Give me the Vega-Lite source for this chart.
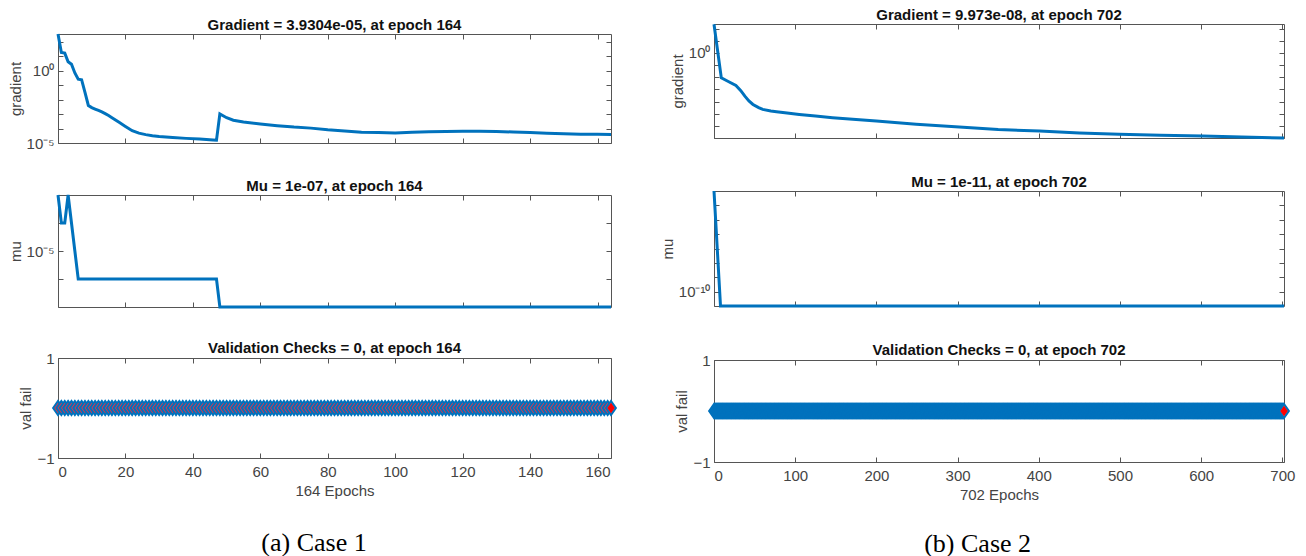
{
"$schema":"https://vega.github.io/schema/vega-lite/v6.json",
"background":"white",
"padding":{"left":7,"top":5,"right":5,"bottom":0},
"config":{
 "font":"Liberation Sans",
 "view":{"stroke":"#555","strokeWidth":1},
 "axis":{"labelFont":"Liberation Sans","labelFontSize":15,"labelColor":"#444","titleFont":"Liberation Sans","titleFontSize":15,"titleFontWeight":"normal","titleColor":"#444","tickColor":"#555","domain":false,"grid":false,"tickSize":-5,"titlePadding":3},
 "axisX":{"labelPadding":11},
 "axisY":{"labelPadding":9},
 "title":{"font":"Liberation Sans","fontSize":15,"fontWeight":"bold","color":"#111","anchor":"middle","baseline":"bottom","offset":-5,"frame":"group"}
},
"datasets":{
"g1":[{"e":0,"g":347},{"e":1,"g":18.6},{"e":2,"g":16.6},{"e":3,"g":4.17},{"e":4,"g":2.82},{"e":5,"g":0.708},{"e":6,"g":0.263},{"e":7,"g":0.24},{"e":8,"g":0.0316},{"e":9,"g":0.00398},{"e":10,"g":0.00282},{"e":11,"g":0.00224},{"e":12,"g":0.00178},{"e":13,"g":0.00141},{"e":14,"g":0.00107},{"e":15,"g":0.000794},{"e":16,"g":0.000562},{"e":18,"g":0.000282},{"e":20,"g":0.000141},{"e":22,"g":0.0000708},{"e":24,"g":0.0000479},{"e":26,"g":0.000038},{"e":28,"g":0.0000316},{"e":30,"g":0.0000282},{"e":34,"g":0.000024},{"e":38,"g":0.0000209},{"e":42,"g":0.0000186},{"e":46,"g":0.0000162},{"e":47,"g":0.0000158},{"e":48,"g":0.00102},{"e":50,"g":0.000562},{"e":52,"g":0.00038},{"e":55,"g":0.000282},{"e":60,"g":0.000209},{"e":65,"g":0.000158},{"e":70,"g":0.000126},{"e":75,"g":0.000107},{"e":80,"g":0.0000813},{"e":85,"g":0.0000676},{"e":90,"g":0.000055},{"e":95,"g":0.0000525},{"e":100,"g":0.0000501},{"e":105,"g":0.000055},{"e":110,"g":0.0000589},{"e":115,"g":0.0000631},{"e":120,"g":0.0000661},{"e":125,"g":0.0000661},{"e":130,"g":0.0000631},{"e":135,"g":0.0000575},{"e":140,"g":0.0000525},{"e":145,"g":0.0000479},{"e":150,"g":0.0000437},{"e":155,"g":0.0000407},{"e":160,"g":0.00004},{"e":164,"g":0.000039304}],
"m1":[{"e":0,"mu":0.001},{"e":1,"mu":0.0001},{"e":2,"mu":0.0001},{"e":3,"mu":0.001},{"e":4,"mu":0.0001},{"e":5,"mu":0.00001},{"e":6,"mu":0.000001},{"e":47,"mu":0.000001},{"e":48,"mu":0.0000001},{"e":164,"mu":0.0000001}],
"b1":[{"e":164,"v":0}],
"g2":[{"e":0,"g":229},{"e":9,"g":0.00891},{"e":17,"g":0.00468},{"e":27,"g":0.00209},{"e":33,"g":0.000794},{"e":38,"g":0.000275},{"e":43,"g":0.000112},{"e":48,"g":0.0000575},{"e":55,"g":0.0000316},{"e":60,"g":0.0000224},{"e":70,"g":0.0000166},{"e":77,"g":0.0000145},{"e":90,"g":0.0000112},{"e":105,"g":0.00000871},{"e":125,"g":0.00000631},{"e":146,"g":0.00000468},{"e":175,"g":0.00000331},{"e":200,"g":0.00000245},{"e":249,"g":0.00000132},{"e":302,"g":0.000000794},{"e":350,"g":0.000000501},{"e":401,"g":0.000000372},{"e":450,"g":0.000000263},{"e":499,"g":0.0000002},{"e":550,"g":0.000000166},{"e":602,"g":0.000000145},{"e":650,"g":0.00000012},{"e":702,"g":0.00000009973}],
"m2":[{"e":0,"mu":1e-3},{"e":1,"mu":1e-4},{"e":2,"mu":1e-5},{"e":3,"mu":1e-6},{"e":4,"mu":1e-7},{"e":5,"mu":1e-8},{"e":6,"mu":1e-9},{"e":7,"mu":1e-10},{"e":8,"mu":1e-11},{"e":702,"mu":1e-11}],
"b2":[{"e":702,"v":0}],
"v1":[
{"e":0,"v":0},{"e":1,"v":0},{"e":2,"v":0},{"e":3,"v":0},{"e":4,"v":0},{"e":5,"v":0},{"e":6,"v":0},{"e":7,"v":0},{"e":8,"v":0},{"e":9,"v":0},
{"e":10,"v":0},{"e":11,"v":0},{"e":12,"v":0},{"e":13,"v":0},{"e":14,"v":0},{"e":15,"v":0},{"e":16,"v":0},{"e":17,"v":0},{"e":18,"v":0},{"e":19,"v":0},
{"e":20,"v":0},{"e":21,"v":0},{"e":22,"v":0},{"e":23,"v":0},{"e":24,"v":0},{"e":25,"v":0},{"e":26,"v":0},{"e":27,"v":0},{"e":28,"v":0},{"e":29,"v":0},
{"e":30,"v":0},{"e":31,"v":0},{"e":32,"v":0},{"e":33,"v":0},{"e":34,"v":0},{"e":35,"v":0},{"e":36,"v":0},{"e":37,"v":0},{"e":38,"v":0},{"e":39,"v":0},
{"e":40,"v":0},{"e":41,"v":0},{"e":42,"v":0},{"e":43,"v":0},{"e":44,"v":0},{"e":45,"v":0},{"e":46,"v":0},{"e":47,"v":0},{"e":48,"v":0},{"e":49,"v":0},
{"e":50,"v":0},{"e":51,"v":0},{"e":52,"v":0},{"e":53,"v":0},{"e":54,"v":0},{"e":55,"v":0},{"e":56,"v":0},{"e":57,"v":0},{"e":58,"v":0},{"e":59,"v":0},
{"e":60,"v":0},{"e":61,"v":0},{"e":62,"v":0},{"e":63,"v":0},{"e":64,"v":0},{"e":65,"v":0},{"e":66,"v":0},{"e":67,"v":0},{"e":68,"v":0},{"e":69,"v":0},
{"e":70,"v":0},{"e":71,"v":0},{"e":72,"v":0},{"e":73,"v":0},{"e":74,"v":0},{"e":75,"v":0},{"e":76,"v":0},{"e":77,"v":0},{"e":78,"v":0},{"e":79,"v":0},
{"e":80,"v":0},{"e":81,"v":0},{"e":82,"v":0},{"e":83,"v":0},{"e":84,"v":0},{"e":85,"v":0},{"e":86,"v":0},{"e":87,"v":0},{"e":88,"v":0},{"e":89,"v":0},
{"e":90,"v":0},{"e":91,"v":0},{"e":92,"v":0},{"e":93,"v":0},{"e":94,"v":0},{"e":95,"v":0},{"e":96,"v":0},{"e":97,"v":0},{"e":98,"v":0},{"e":99,"v":0},
{"e":100,"v":0},{"e":101,"v":0},{"e":102,"v":0},{"e":103,"v":0},{"e":104,"v":0},{"e":105,"v":0},{"e":106,"v":0},{"e":107,"v":0},{"e":108,"v":0},{"e":109,"v":0},
{"e":110,"v":0},{"e":111,"v":0},{"e":112,"v":0},{"e":113,"v":0},{"e":114,"v":0},{"e":115,"v":0},{"e":116,"v":0},{"e":117,"v":0},{"e":118,"v":0},{"e":119,"v":0},
{"e":120,"v":0},{"e":121,"v":0},{"e":122,"v":0},{"e":123,"v":0},{"e":124,"v":0},{"e":125,"v":0},{"e":126,"v":0},{"e":127,"v":0},{"e":128,"v":0},{"e":129,"v":0},
{"e":130,"v":0},{"e":131,"v":0},{"e":132,"v":0},{"e":133,"v":0},{"e":134,"v":0},{"e":135,"v":0},{"e":136,"v":0},{"e":137,"v":0},{"e":138,"v":0},{"e":139,"v":0},
{"e":140,"v":0},{"e":141,"v":0},{"e":142,"v":0},{"e":143,"v":0},{"e":144,"v":0},{"e":145,"v":0},{"e":146,"v":0},{"e":147,"v":0},{"e":148,"v":0},{"e":149,"v":0},
{"e":150,"v":0},{"e":151,"v":0},{"e":152,"v":0},{"e":153,"v":0},{"e":154,"v":0},{"e":155,"v":0},{"e":156,"v":0},{"e":157,"v":0},{"e":158,"v":0},{"e":159,"v":0},
{"e":160,"v":0},{"e":161,"v":0},{"e":162,"v":0},{"e":163,"v":0},{"e":164,"v":0}],
"v2":[
{"e":0,"v":0},{"e":1,"v":0},{"e":2,"v":0},{"e":3,"v":0},{"e":4,"v":0},{"e":5,"v":0},{"e":6,"v":0},{"e":7,"v":0},{"e":8,"v":0},{"e":9,"v":0},
{"e":10,"v":0},{"e":11,"v":0},{"e":12,"v":0},{"e":13,"v":0},{"e":14,"v":0},{"e":15,"v":0},{"e":16,"v":0},{"e":17,"v":0},{"e":18,"v":0},{"e":19,"v":0},
{"e":20,"v":0},{"e":21,"v":0},{"e":22,"v":0},{"e":23,"v":0},{"e":24,"v":0},{"e":25,"v":0},{"e":26,"v":0},{"e":27,"v":0},{"e":28,"v":0},{"e":29,"v":0},
{"e":30,"v":0},{"e":31,"v":0},{"e":32,"v":0},{"e":33,"v":0},{"e":34,"v":0},{"e":35,"v":0},{"e":36,"v":0},{"e":37,"v":0},{"e":38,"v":0},{"e":39,"v":0},
{"e":40,"v":0},{"e":41,"v":0},{"e":42,"v":0},{"e":43,"v":0},{"e":44,"v":0},{"e":45,"v":0},{"e":46,"v":0},{"e":47,"v":0},{"e":48,"v":0},{"e":49,"v":0},
{"e":50,"v":0},{"e":51,"v":0},{"e":52,"v":0},{"e":53,"v":0},{"e":54,"v":0},{"e":55,"v":0},{"e":56,"v":0},{"e":57,"v":0},{"e":58,"v":0},{"e":59,"v":0},
{"e":60,"v":0},{"e":61,"v":0},{"e":62,"v":0},{"e":63,"v":0},{"e":64,"v":0},{"e":65,"v":0},{"e":66,"v":0},{"e":67,"v":0},{"e":68,"v":0},{"e":69,"v":0},
{"e":70,"v":0},{"e":71,"v":0},{"e":72,"v":0},{"e":73,"v":0},{"e":74,"v":0},{"e":75,"v":0},{"e":76,"v":0},{"e":77,"v":0},{"e":78,"v":0},{"e":79,"v":0},
{"e":80,"v":0},{"e":81,"v":0},{"e":82,"v":0},{"e":83,"v":0},{"e":84,"v":0},{"e":85,"v":0},{"e":86,"v":0},{"e":87,"v":0},{"e":88,"v":0},{"e":89,"v":0},
{"e":90,"v":0},{"e":91,"v":0},{"e":92,"v":0},{"e":93,"v":0},{"e":94,"v":0},{"e":95,"v":0},{"e":96,"v":0},{"e":97,"v":0},{"e":98,"v":0},{"e":99,"v":0},
{"e":100,"v":0},{"e":101,"v":0},{"e":102,"v":0},{"e":103,"v":0},{"e":104,"v":0},{"e":105,"v":0},{"e":106,"v":0},{"e":107,"v":0},{"e":108,"v":0},{"e":109,"v":0},
{"e":110,"v":0},{"e":111,"v":0},{"e":112,"v":0},{"e":113,"v":0},{"e":114,"v":0},{"e":115,"v":0},{"e":116,"v":0},{"e":117,"v":0},{"e":118,"v":0},{"e":119,"v":0},
{"e":120,"v":0},{"e":121,"v":0},{"e":122,"v":0},{"e":123,"v":0},{"e":124,"v":0},{"e":125,"v":0},{"e":126,"v":0},{"e":127,"v":0},{"e":128,"v":0},{"e":129,"v":0},
{"e":130,"v":0},{"e":131,"v":0},{"e":132,"v":0},{"e":133,"v":0},{"e":134,"v":0},{"e":135,"v":0},{"e":136,"v":0},{"e":137,"v":0},{"e":138,"v":0},{"e":139,"v":0},
{"e":140,"v":0},{"e":141,"v":0},{"e":142,"v":0},{"e":143,"v":0},{"e":144,"v":0},{"e":145,"v":0},{"e":146,"v":0},{"e":147,"v":0},{"e":148,"v":0},{"e":149,"v":0},
{"e":150,"v":0},{"e":151,"v":0},{"e":152,"v":0},{"e":153,"v":0},{"e":154,"v":0},{"e":155,"v":0},{"e":156,"v":0},{"e":157,"v":0},{"e":158,"v":0},{"e":159,"v":0},
{"e":160,"v":0},{"e":161,"v":0},{"e":162,"v":0},{"e":163,"v":0},{"e":164,"v":0},{"e":165,"v":0},{"e":166,"v":0},{"e":167,"v":0},{"e":168,"v":0},{"e":169,"v":0},
{"e":170,"v":0},{"e":171,"v":0},{"e":172,"v":0},{"e":173,"v":0},{"e":174,"v":0},{"e":175,"v":0},{"e":176,"v":0},{"e":177,"v":0},{"e":178,"v":0},{"e":179,"v":0},
{"e":180,"v":0},{"e":181,"v":0},{"e":182,"v":0},{"e":183,"v":0},{"e":184,"v":0},{"e":185,"v":0},{"e":186,"v":0},{"e":187,"v":0},{"e":188,"v":0},{"e":189,"v":0},
{"e":190,"v":0},{"e":191,"v":0},{"e":192,"v":0},{"e":193,"v":0},{"e":194,"v":0},{"e":195,"v":0},{"e":196,"v":0},{"e":197,"v":0},{"e":198,"v":0},{"e":199,"v":0},
{"e":200,"v":0},{"e":201,"v":0},{"e":202,"v":0},{"e":203,"v":0},{"e":204,"v":0},{"e":205,"v":0},{"e":206,"v":0},{"e":207,"v":0},{"e":208,"v":0},{"e":209,"v":0},
{"e":210,"v":0},{"e":211,"v":0},{"e":212,"v":0},{"e":213,"v":0},{"e":214,"v":0},{"e":215,"v":0},{"e":216,"v":0},{"e":217,"v":0},{"e":218,"v":0},{"e":219,"v":0},
{"e":220,"v":0},{"e":221,"v":0},{"e":222,"v":0},{"e":223,"v":0},{"e":224,"v":0},{"e":225,"v":0},{"e":226,"v":0},{"e":227,"v":0},{"e":228,"v":0},{"e":229,"v":0},
{"e":230,"v":0},{"e":231,"v":0},{"e":232,"v":0},{"e":233,"v":0},{"e":234,"v":0},{"e":235,"v":0},{"e":236,"v":0},{"e":237,"v":0},{"e":238,"v":0},{"e":239,"v":0},
{"e":240,"v":0},{"e":241,"v":0},{"e":242,"v":0},{"e":243,"v":0},{"e":244,"v":0},{"e":245,"v":0},{"e":246,"v":0},{"e":247,"v":0},{"e":248,"v":0},{"e":249,"v":0},
{"e":250,"v":0},{"e":251,"v":0},{"e":252,"v":0},{"e":253,"v":0},{"e":254,"v":0},{"e":255,"v":0},{"e":256,"v":0},{"e":257,"v":0},{"e":258,"v":0},{"e":259,"v":0},
{"e":260,"v":0},{"e":261,"v":0},{"e":262,"v":0},{"e":263,"v":0},{"e":264,"v":0},{"e":265,"v":0},{"e":266,"v":0},{"e":267,"v":0},{"e":268,"v":0},{"e":269,"v":0},
{"e":270,"v":0},{"e":271,"v":0},{"e":272,"v":0},{"e":273,"v":0},{"e":274,"v":0},{"e":275,"v":0},{"e":276,"v":0},{"e":277,"v":0},{"e":278,"v":0},{"e":279,"v":0},
{"e":280,"v":0},{"e":281,"v":0},{"e":282,"v":0},{"e":283,"v":0},{"e":284,"v":0},{"e":285,"v":0},{"e":286,"v":0},{"e":287,"v":0},{"e":288,"v":0},{"e":289,"v":0},
{"e":290,"v":0},{"e":291,"v":0},{"e":292,"v":0},{"e":293,"v":0},{"e":294,"v":0},{"e":295,"v":0},{"e":296,"v":0},{"e":297,"v":0},{"e":298,"v":0},{"e":299,"v":0},
{"e":300,"v":0},{"e":301,"v":0},{"e":302,"v":0},{"e":303,"v":0},{"e":304,"v":0},{"e":305,"v":0},{"e":306,"v":0},{"e":307,"v":0},{"e":308,"v":0},{"e":309,"v":0},
{"e":310,"v":0},{"e":311,"v":0},{"e":312,"v":0},{"e":313,"v":0},{"e":314,"v":0},{"e":315,"v":0},{"e":316,"v":0},{"e":317,"v":0},{"e":318,"v":0},{"e":319,"v":0},
{"e":320,"v":0},{"e":321,"v":0},{"e":322,"v":0},{"e":323,"v":0},{"e":324,"v":0},{"e":325,"v":0},{"e":326,"v":0},{"e":327,"v":0},{"e":328,"v":0},{"e":329,"v":0},
{"e":330,"v":0},{"e":331,"v":0},{"e":332,"v":0},{"e":333,"v":0},{"e":334,"v":0},{"e":335,"v":0},{"e":336,"v":0},{"e":337,"v":0},{"e":338,"v":0},{"e":339,"v":0},
{"e":340,"v":0},{"e":341,"v":0},{"e":342,"v":0},{"e":343,"v":0},{"e":344,"v":0},{"e":345,"v":0},{"e":346,"v":0},{"e":347,"v":0},{"e":348,"v":0},{"e":349,"v":0},
{"e":350,"v":0},{"e":351,"v":0},{"e":352,"v":0},{"e":353,"v":0},{"e":354,"v":0},{"e":355,"v":0},{"e":356,"v":0},{"e":357,"v":0},{"e":358,"v":0},{"e":359,"v":0},
{"e":360,"v":0},{"e":361,"v":0},{"e":362,"v":0},{"e":363,"v":0},{"e":364,"v":0},{"e":365,"v":0},{"e":366,"v":0},{"e":367,"v":0},{"e":368,"v":0},{"e":369,"v":0},
{"e":370,"v":0},{"e":371,"v":0},{"e":372,"v":0},{"e":373,"v":0},{"e":374,"v":0},{"e":375,"v":0},{"e":376,"v":0},{"e":377,"v":0},{"e":378,"v":0},{"e":379,"v":0},
{"e":380,"v":0},{"e":381,"v":0},{"e":382,"v":0},{"e":383,"v":0},{"e":384,"v":0},{"e":385,"v":0},{"e":386,"v":0},{"e":387,"v":0},{"e":388,"v":0},{"e":389,"v":0},
{"e":390,"v":0},{"e":391,"v":0},{"e":392,"v":0},{"e":393,"v":0},{"e":394,"v":0},{"e":395,"v":0},{"e":396,"v":0},{"e":397,"v":0},{"e":398,"v":0},{"e":399,"v":0},
{"e":400,"v":0},{"e":401,"v":0},{"e":402,"v":0},{"e":403,"v":0},{"e":404,"v":0},{"e":405,"v":0},{"e":406,"v":0},{"e":407,"v":0},{"e":408,"v":0},{"e":409,"v":0},
{"e":410,"v":0},{"e":411,"v":0},{"e":412,"v":0},{"e":413,"v":0},{"e":414,"v":0},{"e":415,"v":0},{"e":416,"v":0},{"e":417,"v":0},{"e":418,"v":0},{"e":419,"v":0},
{"e":420,"v":0},{"e":421,"v":0},{"e":422,"v":0},{"e":423,"v":0},{"e":424,"v":0},{"e":425,"v":0},{"e":426,"v":0},{"e":427,"v":0},{"e":428,"v":0},{"e":429,"v":0},
{"e":430,"v":0},{"e":431,"v":0},{"e":432,"v":0},{"e":433,"v":0},{"e":434,"v":0},{"e":435,"v":0},{"e":436,"v":0},{"e":437,"v":0},{"e":438,"v":0},{"e":439,"v":0},
{"e":440,"v":0},{"e":441,"v":0},{"e":442,"v":0},{"e":443,"v":0},{"e":444,"v":0},{"e":445,"v":0},{"e":446,"v":0},{"e":447,"v":0},{"e":448,"v":0},{"e":449,"v":0},
{"e":450,"v":0},{"e":451,"v":0},{"e":452,"v":0},{"e":453,"v":0},{"e":454,"v":0},{"e":455,"v":0},{"e":456,"v":0},{"e":457,"v":0},{"e":458,"v":0},{"e":459,"v":0},
{"e":460,"v":0},{"e":461,"v":0},{"e":462,"v":0},{"e":463,"v":0},{"e":464,"v":0},{"e":465,"v":0},{"e":466,"v":0},{"e":467,"v":0},{"e":468,"v":0},{"e":469,"v":0},
{"e":470,"v":0},{"e":471,"v":0},{"e":472,"v":0},{"e":473,"v":0},{"e":474,"v":0},{"e":475,"v":0},{"e":476,"v":0},{"e":477,"v":0},{"e":478,"v":0},{"e":479,"v":0},
{"e":480,"v":0},{"e":481,"v":0},{"e":482,"v":0},{"e":483,"v":0},{"e":484,"v":0},{"e":485,"v":0},{"e":486,"v":0},{"e":487,"v":0},{"e":488,"v":0},{"e":489,"v":0},
{"e":490,"v":0},{"e":491,"v":0},{"e":492,"v":0},{"e":493,"v":0},{"e":494,"v":0},{"e":495,"v":0},{"e":496,"v":0},{"e":497,"v":0},{"e":498,"v":0},{"e":499,"v":0},
{"e":500,"v":0},{"e":501,"v":0},{"e":502,"v":0},{"e":503,"v":0},{"e":504,"v":0},{"e":505,"v":0},{"e":506,"v":0},{"e":507,"v":0},{"e":508,"v":0},{"e":509,"v":0},
{"e":510,"v":0},{"e":511,"v":0},{"e":512,"v":0},{"e":513,"v":0},{"e":514,"v":0},{"e":515,"v":0},{"e":516,"v":0},{"e":517,"v":0},{"e":518,"v":0},{"e":519,"v":0},
{"e":520,"v":0},{"e":521,"v":0},{"e":522,"v":0},{"e":523,"v":0},{"e":524,"v":0},{"e":525,"v":0},{"e":526,"v":0},{"e":527,"v":0},{"e":528,"v":0},{"e":529,"v":0},
{"e":530,"v":0},{"e":531,"v":0},{"e":532,"v":0},{"e":533,"v":0},{"e":534,"v":0},{"e":535,"v":0},{"e":536,"v":0},{"e":537,"v":0},{"e":538,"v":0},{"e":539,"v":0},
{"e":540,"v":0},{"e":541,"v":0},{"e":542,"v":0},{"e":543,"v":0},{"e":544,"v":0},{"e":545,"v":0},{"e":546,"v":0},{"e":547,"v":0},{"e":548,"v":0},{"e":549,"v":0},
{"e":550,"v":0},{"e":551,"v":0},{"e":552,"v":0},{"e":553,"v":0},{"e":554,"v":0},{"e":555,"v":0},{"e":556,"v":0},{"e":557,"v":0},{"e":558,"v":0},{"e":559,"v":0},
{"e":560,"v":0},{"e":561,"v":0},{"e":562,"v":0},{"e":563,"v":0},{"e":564,"v":0},{"e":565,"v":0},{"e":566,"v":0},{"e":567,"v":0},{"e":568,"v":0},{"e":569,"v":0},
{"e":570,"v":0},{"e":571,"v":0},{"e":572,"v":0},{"e":573,"v":0},{"e":574,"v":0},{"e":575,"v":0},{"e":576,"v":0},{"e":577,"v":0},{"e":578,"v":0},{"e":579,"v":0},
{"e":580,"v":0},{"e":581,"v":0},{"e":582,"v":0},{"e":583,"v":0},{"e":584,"v":0},{"e":585,"v":0},{"e":586,"v":0},{"e":587,"v":0},{"e":588,"v":0},{"e":589,"v":0},
{"e":590,"v":0},{"e":591,"v":0},{"e":592,"v":0},{"e":593,"v":0},{"e":594,"v":0},{"e":595,"v":0},{"e":596,"v":0},{"e":597,"v":0},{"e":598,"v":0},{"e":599,"v":0},
{"e":600,"v":0},{"e":601,"v":0},{"e":602,"v":0},{"e":603,"v":0},{"e":604,"v":0},{"e":605,"v":0},{"e":606,"v":0},{"e":607,"v":0},{"e":608,"v":0},{"e":609,"v":0},
{"e":610,"v":0},{"e":611,"v":0},{"e":612,"v":0},{"e":613,"v":0},{"e":614,"v":0},{"e":615,"v":0},{"e":616,"v":0},{"e":617,"v":0},{"e":618,"v":0},{"e":619,"v":0},
{"e":620,"v":0},{"e":621,"v":0},{"e":622,"v":0},{"e":623,"v":0},{"e":624,"v":0},{"e":625,"v":0},{"e":626,"v":0},{"e":627,"v":0},{"e":628,"v":0},{"e":629,"v":0},
{"e":630,"v":0},{"e":631,"v":0},{"e":632,"v":0},{"e":633,"v":0},{"e":634,"v":0},{"e":635,"v":0},{"e":636,"v":0},{"e":637,"v":0},{"e":638,"v":0},{"e":639,"v":0},
{"e":640,"v":0},{"e":641,"v":0},{"e":642,"v":0},{"e":643,"v":0},{"e":644,"v":0},{"e":645,"v":0},{"e":646,"v":0},{"e":647,"v":0},{"e":648,"v":0},{"e":649,"v":0},
{"e":650,"v":0},{"e":651,"v":0},{"e":652,"v":0},{"e":653,"v":0},{"e":654,"v":0},{"e":655,"v":0},{"e":656,"v":0},{"e":657,"v":0},{"e":658,"v":0},{"e":659,"v":0},
{"e":660,"v":0},{"e":661,"v":0},{"e":662,"v":0},{"e":663,"v":0},{"e":664,"v":0},{"e":665,"v":0},{"e":666,"v":0},{"e":667,"v":0},{"e":668,"v":0},{"e":669,"v":0},
{"e":670,"v":0},{"e":671,"v":0},{"e":672,"v":0},{"e":673,"v":0},{"e":674,"v":0},{"e":675,"v":0},{"e":676,"v":0},{"e":677,"v":0},{"e":678,"v":0},{"e":679,"v":0},
{"e":680,"v":0},{"e":681,"v":0},{"e":682,"v":0},{"e":683,"v":0},{"e":684,"v":0},{"e":685,"v":0},{"e":686,"v":0},{"e":687,"v":0},{"e":688,"v":0},{"e":689,"v":0},
{"e":690,"v":0},{"e":691,"v":0},{"e":692,"v":0},{"e":693,"v":0},{"e":694,"v":0},{"e":695,"v":0},{"e":696,"v":0},{"e":697,"v":0},{"e":698,"v":0},{"e":699,"v":0},
{"e":700,"v":0},{"e":701,"v":0},{"e":702,"v":0}]
},
"hconcat":[
{
 "spacing":0,
 "vconcat":[
  {"width":553,"height":12,"data":{"values":[]},"mark":{"type":"point","opacity":0},"view":{"stroke":null}},
  {
   "title":{"text":"(a) Case 1","orient":"bottom","font":"Liberation Serif","fontSize":26,"fontWeight":"normal","color":"#000","offset":31,"baseline":"top","frame":"bounds"},
   "spacing":26,
   "vconcat":[
    {
     "width":553,"height":109,
     "title":{"text":"Gradient = 3.9304e-05, at epoch 164"},
     "data":{"name":"g1"},
     "layer":[
      {"mark":{"type":"line","color":"#0072BD","strokeWidth":3},
       "encoding":{
        "x":{"field":"e","type":"quantitative","scale":{"domain":[0,164],"nice":false,"zero":false},"axis":{"values":[0,20,40,60,80,100,120,140,160],"labels":false,"title":null}},
        "y":{"field":"g","type":"quantitative","scale":{"type":"log","domain":[0.00001,350],"nice":false},"axis":{"values":[0.00001,0.0001,0.001,0.01,0.1,1,10,100],"labelExpr":"abs(log(datum.value)/LN10) < 0.01 ? '10⁰' : abs(log(datum.value)/LN10 + 5) < 0.01 ? '10⁻⁵' : ''","title":"gradient"}}}},
      {"mark":{"type":"line","opacity":0},
       "encoding":{
        "x":{"field":"e","type":"quantitative","axis":{"orient":"top","values":[0,20,40,60,80,100,120,140,160],"labels":false,"title":null}},
        "y":{"field":"g","type":"quantitative","axis":{"orient":"right","values":[0.00001,0.0001,0.001,0.01,0.1,1,10,100],"labels":false,"title":null}}}}
     ],
     "resolve":{"axis":{"x":"independent","y":"independent"}}
    },
    {
     "width":553,"height":112,
     "title":{"text":"Mu = 1e-07, at epoch 164"},
     "data":{"name":"m1"},
     "layer":[
      {"mark":{"type":"line","color":"#0072BD","strokeWidth":3},
       "encoding":{
        "x":{"field":"e","type":"quantitative","scale":{"domain":[0,164],"nice":false,"zero":false},"axis":{"values":[0,20,40,60,80,100,120,140,160],"labels":false,"title":null}},
        "y":{"field":"mu","type":"quantitative","scale":{"type":"log","domain":[0.0000001,0.001],"nice":false},"axis":{"values":[0.000001,0.00001,0.0001],"labelExpr":"abs(log(datum.value)/LN10 + 5) < 0.01 ? '10⁻⁵' : ''","title":"mu"}}}},
      {"mark":{"type":"line","opacity":0},
       "encoding":{
        "x":{"field":"e","type":"quantitative","axis":{"orient":"top","values":[0,20,40,60,80,100,120,140,160],"labels":false,"title":null}},
        "y":{"field":"mu","type":"quantitative","axis":{"orient":"right","values":[0.000001,0.00001,0.0001],"labels":false,"title":null}}}}
     ],
     "resolve":{"axis":{"x":"independent","y":"independent"}}
    },
    {
     "width":553,"height":100,
     "title":{"text":"Validation Checks = 0, at epoch 164"},
     "layer":[
      {"data":{"name":"v1"},"mark":{"type":"line","color":"#0072BD","strokeWidth":2},
       "encoding":{
        "x":{"field":"e","type":"quantitative","scale":{"domain":[0,164],"nice":false,"zero":false},"axis":{"values":[0,20,40,60,80,100,120,140,160],"format":"d","title":"164 Epochs","titlePadding":4}},
        "y":{"field":"v","type":"quantitative","scale":{"domain":[-1,1],"nice":false},"axis":{"values":[-1,0,1],"format":"d","title":"val fail"}}}},
      {"data":{"name":"v1"},"mark":{"type":"point","shape":"M-0.7,0L0,-1L0.7,0L0,1Z","filled":true,"fill":"#E0364A","stroke":"#0072BD","strokeWidth":2,"size":196,"opacity":1},
       "encoding":{
        "x":{"field":"e","type":"quantitative","axis":{"orient":"top","values":[0,20,40,60,80,100,120,140,160],"labels":false,"title":null}},
        "y":{"field":"v","type":"quantitative","axis":{"orient":"right","values":[-1,0,1],"labels":false,"title":null}}}},
      {"data":{"name":"b1"},"mark":{"type":"point","shape":"M-0.7,0L0,-1L0.7,0L0,1Z","filled":true,"fill":"#FF0000","stroke":"#FF0000","strokeWidth":1,"size":72,"opacity":1},
       "encoding":{
        "x":{"field":"e","type":"quantitative","axis":null},
        "y":{"field":"v","type":"quantitative","axis":null}}}
     ],
     "resolve":{"axis":{"x":"independent","y":"independent"}}
    }
   ]
  }
 ]
},
{
 "spacing":0,
 "vconcat":[
  {"width":570,"height":2,"data":{"values":[]},"mark":{"type":"point","opacity":0},"view":{"stroke":null}},
  {
   "title":{"text":"(b) Case 2","orient":"bottom","font":"Liberation Serif","fontSize":26,"fontWeight":"normal","color":"#000","offset":28,"baseline":"top","frame":"bounds"},
   "spacing":29,
   "vconcat":[
    {
     "width":570,"height":114,
     "title":{"text":"Gradient = 9.973e-08, at epoch 702"},
     "data":{"name":"g2"},
     "layer":[
      {"mark":{"type":"line","color":"#0072BD","strokeWidth":3},
       "encoding":{
        "x":{"field":"e","type":"quantitative","scale":{"domain":[0,702],"nice":false,"zero":false},"axis":{"values":[0,100,200,300,400,500,600,700],"labels":false,"title":null}},
        "y":{"field":"g","type":"quantitative","scale":{"type":"log","domain":[0.00000009973,240],"nice":false},"axis":{"values":[0.0000001,0.000001,0.00001,0.0001,0.001,0.01,0.1,1,10,100],"labelExpr":"abs(log(datum.value)/LN10) < 0.01 ? '10⁰' : ''","title":"gradient"}}}},
      {"mark":{"type":"line","opacity":0},
       "encoding":{
        "x":{"field":"e","type":"quantitative","axis":{"orient":"top","values":[0,100,200,300,400,500,600,700],"labels":false,"title":null}},
        "y":{"field":"g","type":"quantitative","axis":{"orient":"right","values":[0.0000001,0.000001,0.00001,0.0001,0.001,0.01,0.1,1,10,100],"labels":false,"title":null}}}}
     ],
     "resolve":{"axis":{"x":"independent","y":"independent"}}
    },
    {
     "width":570,"height":115,
     "title":{"text":"Mu = 1e-11, at epoch 702"},
     "data":{"name":"m2"},
     "layer":[
      {"mark":{"type":"line","color":"#0072BD","strokeWidth":3},
       "encoding":{
        "x":{"field":"e","type":"quantitative","scale":{"domain":[0,702],"nice":false,"zero":false},"axis":{"values":[0,100,200,300,400,500,600,700],"labels":false,"title":null}},
        "y":{"field":"mu","type":"quantitative","scale":{"type":"log","domain":[1e-11,1e-3],"nice":false},"axis":{"values":[1e-10,1e-9,1e-8,1e-7,1e-6,1e-5,1e-4],"labelExpr":"abs(log(datum.value)/LN10 + 10) < 0.01 ? '10⁻¹⁰' : ''","title":"mu"}}}},
      {"mark":{"type":"line","opacity":0},
       "encoding":{
        "x":{"field":"e","type":"quantitative","axis":{"orient":"top","values":[0,100,200,300,400,500,600,700],"labels":false,"title":null}},
        "y":{"field":"mu","type":"quantitative","axis":{"orient":"right","values":[1e-10,1e-9,1e-8,1e-7,1e-6,1e-5,1e-4],"labels":false,"title":null}}}}
     ],
     "resolve":{"axis":{"x":"independent","y":"independent"}}
    },
    {
     "width":570,"height":102,
     "title":{"text":"Validation Checks = 0, at epoch 702"},
     "layer":[
      {"data":{"name":"v2"},"mark":{"type":"line","color":"#0072BD","strokeWidth":2},
       "encoding":{
        "x":{"field":"e","type":"quantitative","scale":{"domain":[0,702],"nice":false,"zero":false},"axis":{"values":[0,100,200,300,400,500,600,700],"format":"d","title":"702 Epochs","titlePadding":4}},
        "y":{"field":"v","type":"quantitative","scale":{"domain":[-1,1],"nice":false},"axis":{"values":[-1,0,1],"format":"d","title":"val fail"}}}},
      {"data":{"name":"v2"},"mark":{"type":"point","shape":"M-0.7,0L0,-1L0.7,0L0,1Z","filled":true,"fill":"#E0364A","stroke":"#0072BD","strokeWidth":2,"size":196,"opacity":1},
       "encoding":{
        "x":{"field":"e","type":"quantitative","axis":{"orient":"top","values":[0,100,200,300,400,500,600,700],"labels":false,"title":null}},
        "y":{"field":"v","type":"quantitative","axis":{"orient":"right","values":[-1,0,1],"labels":false,"title":null}}}},
      {"data":{"name":"b2"},"mark":{"type":"point","shape":"M-0.7,0L0,-1L0.7,0L0,1Z","filled":true,"fill":"#FF0000","stroke":"#FF0000","strokeWidth":1,"size":72,"opacity":1},
       "encoding":{
        "x":{"field":"e","type":"quantitative","axis":null},
        "y":{"field":"v","type":"quantitative","axis":null}}}
     ],
     "resolve":{"axis":{"x":"independent","y":"independent"}}
    }
   ]
  }
 ]
}
],
"spacing":38
}
